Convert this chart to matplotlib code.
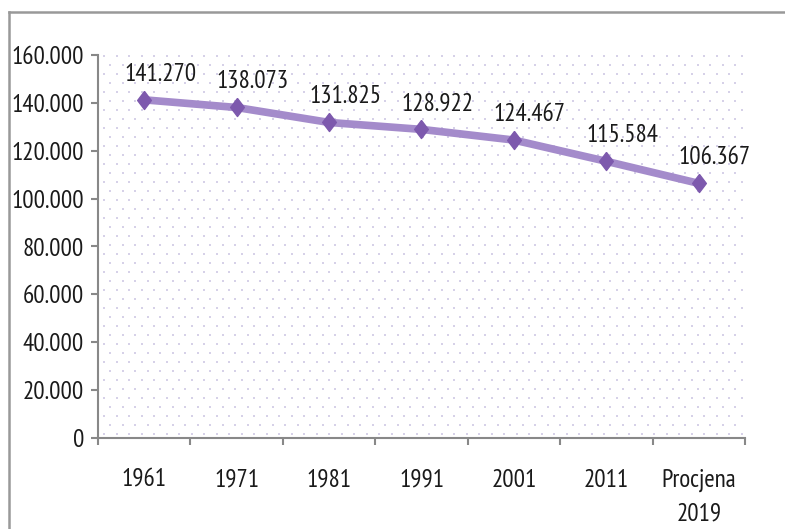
import numpy as np
import matplotlib
matplotlib.use("Agg")
import matplotlib.pyplot as plt
from matplotlib.lines import Line2D

categories = ["1961", "1971", "1981", "1991", "2001", "2011", "Procjena\n2019"]
values = [141.270, 138.073, 131.825, 128.922, 124.467, 115.584, 106.367]
value_labels = ["141.270", "138.073", "131.825", "128.922", "124.467", "115.584", "106.367"]
yticks = [0, 20, 40, 60, 80, 100, 120, 140, 160]
ytick_labels = ["0", "20.000", "40.000", "60.000", "80.000", "100.000", "120.000", "140.000", "160.000"]

plt.rcParams['font.family'] = ['PT Sans Narrow', 'DejaVu Sans']
FS = 18
TXT = "#1a1a1a"

W, H = 785, 529
fig = plt.figure(figsize=(W / 100, H / 100), dpi=100)
ax = fig.add_axes([98 / W, 1 - 438 / H, (745 - 98) / W, (438 - 55) / H])

# dotted background pattern
px_w, px_h = 745 - 98, 438 - 55
dx, dy = 12.5, 9.0
xs, ys = [], []
row = 0
y = 4.0
while y < px_h:
    off = 0 if row % 2 == 0 else dx / 2
    x = 6.0 + off
    while x < px_w - 2:
        xs.append(x / px_w)
        ys.append(y / px_h)
        x += dx
    y += dy
    row += 1
ax.scatter(xs, ys, s=4.5, color="#D6D1E8", marker="s", linewidths=0,
           transform=ax.transAxes, zorder=0, clip_on=False)

diamond = [(0, 1), (0.76, 0), (0, -1), (-0.76, 0), (0, 1)]
x = np.arange(len(categories))
ax.plot(x, values, color="#A48BCB", lw=5.5, zorder=3, solid_capstyle="butt")
ax.plot(x, values, ls="none", marker=diamond, markersize=13, color="#7D59AD",
        zorder=4)

for xi, v, lab in zip(x, values, value_labels):
    ax.annotate(lab, (xi, v), xytext=(11.5, 18.5), textcoords="offset points",
                ha="center", va="center", fontsize=FS, color=TXT)

ax.set_xlim(-0.5, len(categories) - 0.5)
ax.set_ylim(0, 160)
ax.set_yticks(yticks)
ax.set_yticklabels(ytick_labels)

ax.set_xticks(np.arange(len(categories) + 1) - 0.5)
ax.set_xticklabels([])
ax.set_xticks(x, minor=True)
ax.set_xticklabels(categories, minor=True)
ax.tick_params(axis="x", which="minor", length=0, pad=22, labelsize=FS,
               labelcolor=TXT)
ax.tick_params(axis="x", which="major", length=5, width=1.5, color="#888888",
               direction="out")
ax.tick_params(axis="y", length=5, width=1.5, color="#888888", labelsize=FS,
               labelcolor=TXT, pad=5)
for lbl in ax.get_xticklabels(minor=True):
    lbl.set_verticalalignment("top")
    lbl.set_linespacing(1.6)

for s in ["top", "right"]:
    ax.spines[s].set_visible(False)
for s in ["left", "bottom"]:
    ax.spines[s].set_color("#888888")
    ax.spines[s].set_linewidth(1.5)
ax.set_facecolor("white")

# outer frame (partially cropped)
fig.add_artist(Line2D([9 / W, 9 / W], [1 - 12 / H, 0], color="#999999", lw=1.8,
                      transform=fig.transFigure))
fig.add_artist(Line2D([9 / W, 1], [1 - 12 / H, 1 - 12 / H], color="#999999", lw=1.8,
                      transform=fig.transFigure))

fig.savefig("out.png", dpi=100)
